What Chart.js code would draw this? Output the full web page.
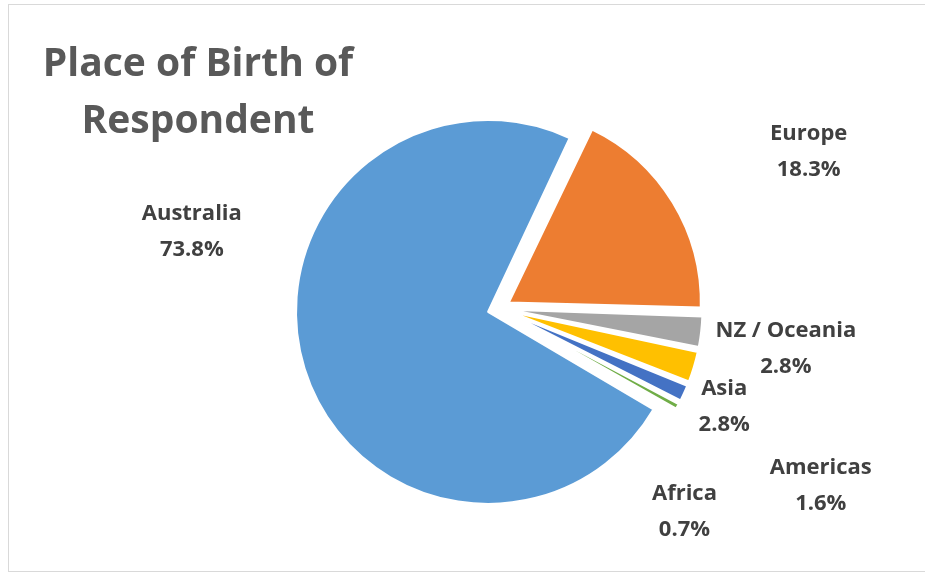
<!DOCTYPE html>
<html>
<head>
<meta charset="utf-8">
<title>Place of Birth of Respondent</title>
<script src="https://cdn.jsdelivr.net/npm/chart.js@4.4.1/dist/chart.umd.min.js"></script>
<style>
    html, body { margin: 0; padding: 0; background: #fff; overflow: hidden; }
    #wrap { position: relative; width: 925px; height: 578px; }
    #frame { position: absolute; left: 8px; top: 4px; width: 940px; height: 566px; border: 1px solid #d9d9d9; }
    #birth-chart { position: absolute; left: 0; top: 0; }
</style>
</head>
<body>
<div id="wrap">
    <div id="frame"></div>
    <canvas id="birth-chart" width="925" height="578"></canvas>
</div>
<script>
const regions = ['Australia', 'Europe', 'NZ / Oceania', 'Asia', 'Americas', 'Africa'];
const shares = [73.8, 18.3, 2.8, 2.8, 1.6, 0.7];
const sliceColors = ['#5b9bd5', '#ed7d31', '#a5a5a5', '#ffc000', '#4472c4', '#70ad47'];
const titleLines = ['Place of Birth of', 'Respondent'];

// where each label block sits, measured in pie radii from the pie centre
const labelSpots = [[-1.60, -0.40], [1.613, -0.814], [1.494, 0.207], [1.173, 0.512], [1.676, 0.922], [0.966, 1.056]];

// Chart.js grows an offset slice's radius as well as moving it out, keep all slices the same size
const evenRadius = {
    id: 'evenRadius',
    beforeDatasetsDraw(chart) {
        const meta = chart.getDatasetMeta(0);
        const r = meta.controller.outerRadius;
        meta.data.forEach(arc => {
            const push = (arc.options.offset || 0) / 4;
            const fix = 1 - Math.sin(Math.min(Math.PI, arc.circumference));
            arc.outerRadius = r - push * fix;
        });
    }
};

const chartTitle = {
    id: 'chartTitle',
    afterDraw(chart) {
        const ctx = chart.ctx;
        ctx.save();
        ctx.font = 'bold 39px "Open Sans"';
        ctx.fillStyle = '#595959';
        ctx.textAlign = 'center';
        ctx.textBaseline = 'alphabetic';
        titleLines.forEach((line, i) => ctx.fillText(line, 198, 76 + i * 57));
        ctx.restore();
    }
};

const sliceLabels = {
    id: 'sliceLabels',
    afterDatasetsDraw(chart) {
        const ctx = chart.ctx;
        const meta = chart.getDatasetMeta(0);
        const cx = meta.data[0].x;
        const cy = meta.data[0].y;
        const r = meta.controller.outerRadius;
        ctx.save();
        ctx.font = 'bold 22px "Open Sans"';
        ctx.fillStyle = '#404040';
        ctx.textAlign = 'center';
        ctx.textBaseline = 'middle';
        regions.forEach((name, i) => {
            const lx = cx + labelSpots[i][0] * r;
            const ly = cy + labelSpots[i][1] * r;
            ctx.fillText(name, lx, ly - 18);
            ctx.fillText(shares[i].toFixed(1) + '%', lx, ly + 18);
        });
        ctx.restore();
    }
};

new Chart(document.getElementById('birth-chart'), {
    type: 'pie',
    data: {
        labels: regions,
        datasets: [{
            data: shares,
            backgroundColor: sliceColors,
            borderColor: '#ffffff',
            borderWidth: 2,
            offset: 46,
            hoverOffset: 46
        }]
    },
    options: {
        responsive: false,
        animation: false,
        events: [],
        rotation: 120,
        radius: 192,
        layout: {
            padding: { top: 60, bottom: 21, left: 140, right: 67 }
        },
        plugins: {
            legend: { display: false },
            title: { display: false },
            tooltip: { enabled: false }
        }
    },
    plugins: [evenRadius, sliceLabels, chartTitle]
});
</script>
</body>
</html>
